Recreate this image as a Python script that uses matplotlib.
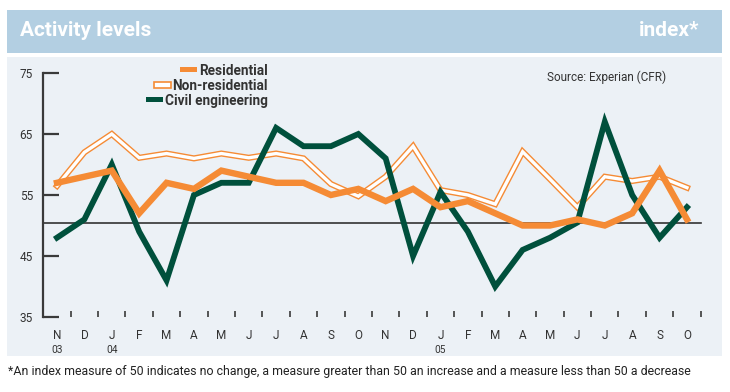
import matplotlib
matplotlib.use('Agg')
import matplotlib.pyplot as plt
from matplotlib.patches import Rectangle
from matplotlib import font_manager as fm
import matplotlib.transforms as mtransforms

# ---------------- data ----------------
months = ['N', 'D', 'J', 'F', 'M', 'A', 'M', 'J', 'J', 'A', 'S', 'O',
          'N', 'D', 'J', 'F', 'M', 'A', 'M', 'J', 'J', 'A', 'S', 'O']
year_labels = ['03', '04', '05']
year_positions = [0, 2, 14]
residential = [57, 58, 59, 52, 57, 56, 59, 58, 57, 57, 55, 56,
               54, 56, 53, 54, 52, 50, 50, 51, 50, 52, 59, 51]
non_residential = [56.5, 62, 65, 61.1, 61.8, 61, 61.8, 61.1, 61.8, 61, 56.8, 54.8,
                   58, 63, 55.8, 55, 53.5, 62.1, 57.6, 53, 58, 57.3, 58, 56.2]
civil = [48, 51, 60, 49, 41, 55, 57, 57, 66, 63, 63, 65,
         61, 45, 55.5, 49, 40, 46, 48, 50.5, 67, 55, 48, 53]
y_ticks = [35, 45, 55, 65, 75]
ref_level = 50.4

# ---------------- fonts ----------------
avail = {f.name for f in fm.fontManager.ttflist}
narrow = 'Roboto' if 'Roboto' in avail else 'Liberation Sans'
regular = 'Roboto' if 'Roboto' in avail else 'DejaVu Sans'

ORANGE = '#f58b35'
GREEN = '#00503c'
DARK = '#333333'
HEADER = '#b3cfe2'
PANEL = '#ecf1f6'

W, H = 730, 392
fig = plt.figure(figsize=(W / 100, H / 100), dpi=100)
fig.patch.set_facecolor('white')


def fx(px):
    return px / W


def fy(py):
    return 1 - py / H


# header band and panel
fig.patches.append(Rectangle((fx(6.5), fy(53.3)), fx(722 - 6.5), (53.3 - 10) / H,
                             transform=fig.transFigure, facecolor=HEADER, edgecolor='none', zorder=-10))
fig.patches.append(Rectangle((fx(7), fy(356)), fx(722 - 7), (356 - 57.3) / H,
                             transform=fig.transFigure, facecolor=PANEL, edgecolor='none', zorder=-10))

fig.text(fx(20), fy(36), 'Activity levels', family=narrow, weight='bold', fontsize=15,
         color='white', ha='left', va='baseline')
fig.text(fx(699), fy(36), 'index*', family=narrow, weight='bold', fontsize=15,
         color='white', ha='right', va='baseline')

# axes: x = -0.5 at spine (px 43.3), month spacing 27.39 px; y 35..75 -> px 317..73
x0_px = 43.3
step = 27.39
xmax = 24.0
right_px = 57 + xmax * step
ax = fig.add_axes([fx(x0_px), fy(317), fx(right_px - x0_px), (317 - 73) / H])
ax.set_facecolor('none')
ax.set_xlim(-0.5, xmax)
ax.set_ylim(35, 75)

x = list(range(len(months)))

# non-residential: orange outline with white core
ax.plot(x, non_residential, color=ORANGE, lw=4.4, solid_joinstyle='miter', zorder=2)
ax.plot(x, non_residential, color='white', lw=2.4, solid_joinstyle='miter', zorder=2.1)
ax.plot(x, civil, color=GREEN, lw=4.2, solid_joinstyle='miter', zorder=3)
ax.plot(x, residential, color=ORANGE, lw=4.6, solid_joinstyle='miter', zorder=4)

ax.plot([-0.5, 23.5], [ref_level, ref_level], color=DARK, lw=1.2, zorder=1.5)

for s in ['top', 'right', 'bottom']:
    ax.spines[s].set_visible(False)
ax.spines['left'].set_color('#3a3a3a')
ax.spines['left'].set_linewidth(1.6)
ax.spines['left'].set_bounds(35, 75)

ax.set_yticks(y_ticks)
ax.set_yticklabels([str(v) for v in y_ticks], family=regular, fontsize=8.5, color=DARK)
ax.tick_params(axis='y', direction='in', length=11.5, width=1.6, color='#3a3a3a', pad=7.5)

ax.set_xticks(x)
ax.set_xticklabels(months, family=regular, fontsize=8.5, color=DARK)
ax.set_xticks([i + 0.5 for i in x], minor=True)
ax.tick_params(axis='x', which='major', length=0, pad=8.8)
ax.tick_params(axis='x', which='minor', direction='in', length=4.5, width=1.2, color='#3a3a3a')

year_tr = ax.transData + mtransforms.ScaledTranslation(0, -36 / 100, fig.dpi_scale_trans)
for lbl, pos in zip(year_labels, year_positions):
    ax.text(pos, 35, lbl, transform=year_tr, family=narrow, fontsize=7.3, color=DARK,
            ha='center', va='baseline')

# source
fig.text(fx(666), fy(81), 'Source: Experian (CFR)', family=narrow, fontsize=8.5, color=DARK,
         ha='right', va='baseline')

# legend (manual)
leg_items = [('Residential', 75, 'solid', ORANGE),
             ('Non-residential', 89.5, 'hollow', ORANGE),
             ('Civil engineering', 105, 'solid', GREEN)]
fig.canvas.draw()
r = fig.canvas.get_renderer()
for label, base, style, col in leg_items:
    t = fig.text(fx(268), fy(base), label, family=narrow, weight='bold', fontsize=9.8,
                 color=DARK, ha='right', va='baseline')
    bb = t.get_window_extent(renderer=r)
    left = bb.x0
    rx1 = left - 2
    rx0 = rx1 - 17
    ry_top = base - 8
    if style == 'solid':
        fig.patches.append(Rectangle((fx(rx0), fy(ry_top + 5)), fx(rx1 - rx0), 5 / H,
                                     transform=fig.transFigure, facecolor=col, edgecolor='none'))
    else:
        fig.patches.append(Rectangle((fx(rx0), fy(ry_top + 6.5)), fx(rx1 - rx0), 5.5 / H,
                                     transform=fig.transFigure, facecolor='white', edgecolor=col, lw=1.2))

fig.text(fx(8), fy(375), '*An index measure of 50 indicates no change, a measure greater than 50 an increase '
         'and a measure less than 50 a decrease', family=narrow, fontsize=8.9, color='#222222',
         ha='left', va='baseline')

fig.savefig('out.png', dpi=100)
